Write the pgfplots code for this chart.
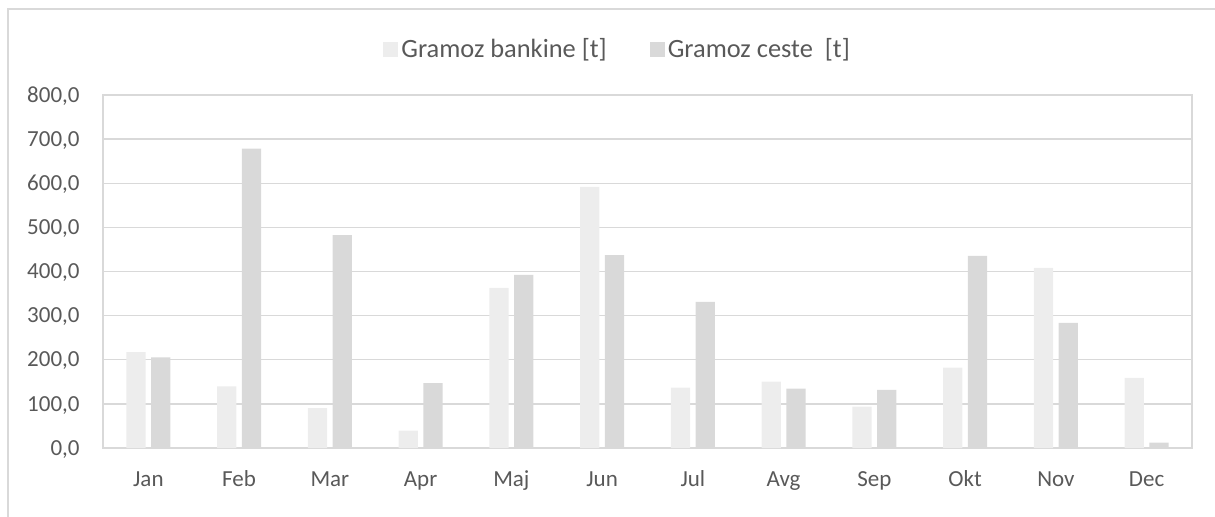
\documentclass[border=0pt]{standalone}
\usepackage{pgfplots}
\pgfplotsset{compat=1.18}
\usepackage{fontspec}
\setmainfont{Carlito}
\definecolor{bank}{HTML}{EDEDED}
\definecolor{ceste}{HTML}{D9D9D9}
\definecolor{gridc}{HTML}{D9D9D9}
\definecolor{txt}{HTML}{595959}
\begin{document}
\begin{tikzpicture}[x=1pt,y=1pt]
\useasboundingbox (0,-258.5) rectangle (607.5,0);
\draw[gridc, line width=0.75pt] (4,-270) -- (4,-4.5) -- (620,-4.5);
\begin{axis}[
  at={(51.5pt,-224pt)}, anchor=south west,
  scale only axis, width=544.5pt, height=176.5pt,
  ybar=2.7pt, bar width=9.7pt,
  xmin=-0.5, xmax=11.5, ymin=0, ymax=800,
  xtick=data,
  xticklabels={Jan,Feb,Mar,Apr,Maj,Jun,Jul,Avg,Sep,Okt,Nov,Dec},
  ytick={0,100,...,800},
  major tick length=0pt,
  ymajorgrids, grid style={gridc, line width=0.7pt},
  axis line style={gridc, line width=0.7pt},
  tick label style={font=\fontsize{11.5}{13}\selectfont, text=txt, inner sep=0pt},
  xticklabel style={anchor=base, yshift=-19.5pt},
  yticklabel style={anchor=base east, xshift=-11.5pt, yshift=-3.6pt},
  /pgf/number format/.cd, fixed, fixed zerofill, precision=1, use comma, 1000 sep={}, assume math mode=true,
  /pgfplots/.cd,
  legend columns=2,
  legend style={draw=none, fill=none, at={(0.473,1.13)}, anchor=center,
    font=\fontsize{13.2}{15}\selectfont, text=txt,
    /tikz/every even column/.append style={column sep=20pt},
    inner sep=0pt, nodes={inner sep=1.5pt}},
  legend image code/.code={\fill[#1] (0pt,-3.75pt) rectangle (7.5pt,3.75pt);},
]
\addplot[fill=bank, draw=none] coordinates {
(0,217.4) (1,139.6) (2,90.6) (3,39.2) (4,363) (5,591.7)
(6,136.6) (7,150.2) (8,93.6) (9,181.9) (10,408.3) (11,159.2)};
\addplot[fill=ceste, draw=none] coordinates {
(0,205.3) (1,678.5) (2,482.3) (3,147.2) (4,392.5) (5,437)
(6,331.3) (7,134.3) (8,132) (9,435.5) (10,283.8) (11,12)};
\legend{Gramoz bankine [t], Gramoz ceste~~[t]}
\end{axis}
\end{tikzpicture}
\end{document}
